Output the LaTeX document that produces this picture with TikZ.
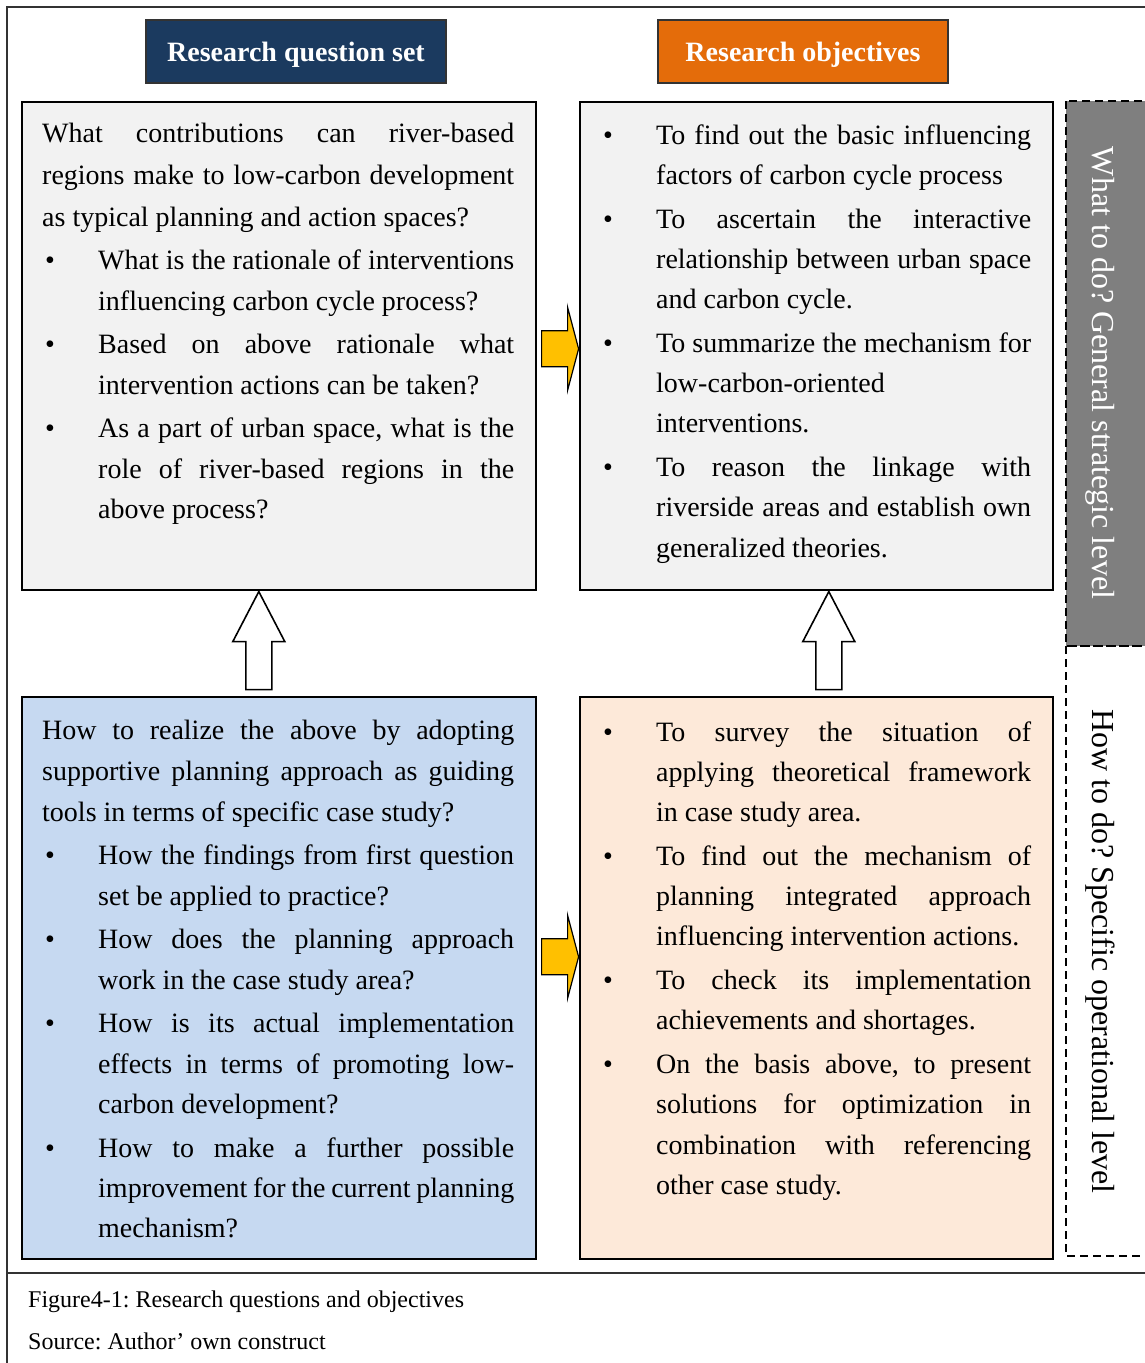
\documentclass[tikz,border=0pt]{standalone}
\usepackage{fontspec}
\setmainfont{Liberation Serif}
\usetikzlibrary{calc}

\definecolor{hdrnavy}{HTML}{1B3A5F}
\definecolor{hdrorange}{HTML}{E46C0A}
\definecolor{boxgray}{HTML}{F2F2F2}
\definecolor{boxblue}{HTML}{C6D9F1}
\definecolor{boxpeach}{HTML}{FDE9D9}
\definecolor{stripgray}{HTML}{7F7F7F}
\definecolor{arrowyellow}{HTML}{FFC000}
\definecolor{framegray}{HTML}{333333}

% line helpers: justified line, bullet lead-in, hanging indent
\newcommand\js[2]{\makebox[#1][s]{#2}}
\newcommand\bul{\makebox[56pt][l]{\hspace*{3pt}\textbullet}}
\newcommand\ind{\hspace*{56pt}}
% use the font's own (stretchable) interword space inside nodes
\newcommand\normalspaces{\spaceskip=0pt\xspaceskip=0pt\relax}

\begin{document}
\frenchspacing
\begin{tikzpicture}[x=1pt,y=-1pt,
  panel/.style={draw=black, line width=1.6pt, anchor=north west, inner sep=0pt},
  hdr/.style={draw=framegray, line width=1.2pt, text=white, inner sep=0pt, text depth=0pt,
    font=\fontsize{28}{32}\selectfont\bfseries},
  txt/.style={anchor=base west, inner sep=0pt, align=left,
    font=\fontsize{28}{40.25}\selectfont},
  strip/.style={draw=black, line width=1.3pt, dash pattern=on 8pt off 5pt},
  striptxt/.style={rotate=-90, inner sep=0pt, font=\fontsize{32}{36}\selectfont},
  captxt/.style={anchor=base west, inner sep=0pt, font=\fontsize{24}{28}\selectfont},
  yarrow/.pic={\draw[fill=arrowyellow, line width=1.2pt, line join=miter]
    (0,-18) -- (26,-18) -- (26,-41.5) -- (37,0) -- (26,41.5) -- (26,18) -- (0,18) -- cycle;},
  uparrow/.pic={\draw[fill=white, line width=1.6pt, line join=miter]
    (0,0) -- (26,50) -- (13,50) -- (13,98) -- (-13,98) -- (-13,50) -- (-26,50) -- cycle;}
]
\useasboundingbox (0,0) rectangle (1145,1363);
\clip (0,0) rectangle (1145,1363);

% outer frame and caption rule
\draw[framegray, line width=1.8pt] (1160,7) -- (7,7) -- (7,1380);
\draw[framegray, line width=1.8pt] (7,1273) -- (1160,1273);

% column headers
\node[hdr, fill=hdrnavy, minimum width=300, minimum height=63] (h1) at (296,51.5) {Research question set};
\node[hdr, fill=hdrorange, minimum width=290, minimum height=63] (h2) at (803,51.5) {Research objectives};

% four content panels
\node[panel, fill=boxgray, minimum width=514, minimum height=488] (q1) at (21,101) {};
\node[panel, fill=boxgray, minimum width=473, minimum height=488] (o1) at (579,101) {};
\node[panel, fill=boxblue, minimum width=514, minimum height=562] (q2) at (21,696) {};
\node[panel, fill=boxpeach, minimum width=473, minimum height=562] (o2) at (579,696) {};

% level strip on the right
\draw[strip, fill=stripgray] (1066,101) rectangle (1170,646);
\draw[strip] (1066,646) rectangle (1170,1256);
\node[striptxt, text=white] (lv1) at (1100,373) {What to do? General strategic level};
\node[striptxt] (lv2) at (1100,951.5) {How to do? Specific operational level};

% panel texts
\node[txt, text width=472pt] (q1t) at (42,142) {\normalspaces
\js{472pt}{What contributions can river-based}\\[1.75pt]
\js{472pt}{regions make to low-carbon development}\\[1.75pt]
as typical planning and action spaces?\\[3.5pt]
\bul\js{416pt}{What is the rationale of interventions}\\
\ind influencing carbon cycle process?\\[3.5pt]
\bul\js{416pt}{Based on above rationale what}\\
\ind intervention actions can be taken?\\[3.5pt]
\bul\js{416pt}{As a part of urban space, what is the}\\
\ind\js{416pt}{role of river-based regions in the}\\
\ind above process?};

\node[txt, text width=431pt] (o1t) at (600,144) {\normalspaces
\bul\js{375pt}{To find out the basic influencing}\\
\ind factors of carbon cycle process\\[3.5pt]
\bul\js{375pt}{To ascertain the interactive}\\
\ind\js{375pt}{relationship between urban space}\\
\ind and carbon cycle.\\[3.5pt]
\bul\js{375pt}{To summarize the mechanism for}\\
\ind low-carbon-oriented\\
\ind interventions.\\[3.5pt]
\bul\js{375pt}{To reason the linkage with}\\
\ind\js{375pt}{riverside areas and establish own}\\
\ind generalized theories.};

\node[txt, text width=472pt] (q2t) at (42,739) {\normalspaces
\js{472pt}{How to realize the above by adopting}\\[0.75pt]
\js{472pt}{supportive planning approach as guiding}\\[0.75pt]
tools in terms of specific case study?\\[3.5pt]
\bul\js{416pt}{How the findings from first question}\\
\ind set be applied to practice?\\[3.5pt]
\bul\js{416pt}{How does the planning approach}\\
\ind work in the case study area?\\[3.5pt]
\bul\js{416pt}{How is its actual implementation}\\
\ind\js{416pt}{effects in terms of promoting low-}\\
\ind carbon development?\\[3.5pt]
\bul\js{416pt}{How to make a further possible}\\
\ind\js{416pt}{improvement for the current planning}\\
\ind mechanism?};

\node[txt, text width=431pt] (o2t) at (600,741) {\normalspaces
\bul\js{375pt}{To survey the situation of}\\
\ind\js{375pt}{applying theoretical framework}\\
\ind in case study area.\\[3.5pt]
\bul\js{375pt}{To find out the mechanism of}\\
\ind\js{375pt}{planning integrated approach}\\
\ind influencing intervention actions.\\[3.5pt]
\bul\js{375pt}{To check its implementation}\\
\ind achievements and shortages.\\[3.5pt]
\bul\js{375pt}{On the basis above, to present}\\
\ind\js{375pt}{solutions for optimization in}\\
\ind\js{375pt}{combination with referencing}\\
\ind other case study.};

% block arrows between panels
\path ($(q1.east)+(5,3)$) pic {yarrow};
\path ($(q2.east)+(5,-21)$) pic {yarrow};
\path ($(q1.south)+(-20,1)$) pic {uparrow};
\path ($(o1.south)+(12.5,1)$) pic {uparrow};

% caption
\node[captxt] (cap1) at (28,1307) {Figure4-1: Research questions and objectives};
\node[captxt] (cap2) at (28,1349) {Source: Author’ own construct};
\end{tikzpicture}
\end{document}
